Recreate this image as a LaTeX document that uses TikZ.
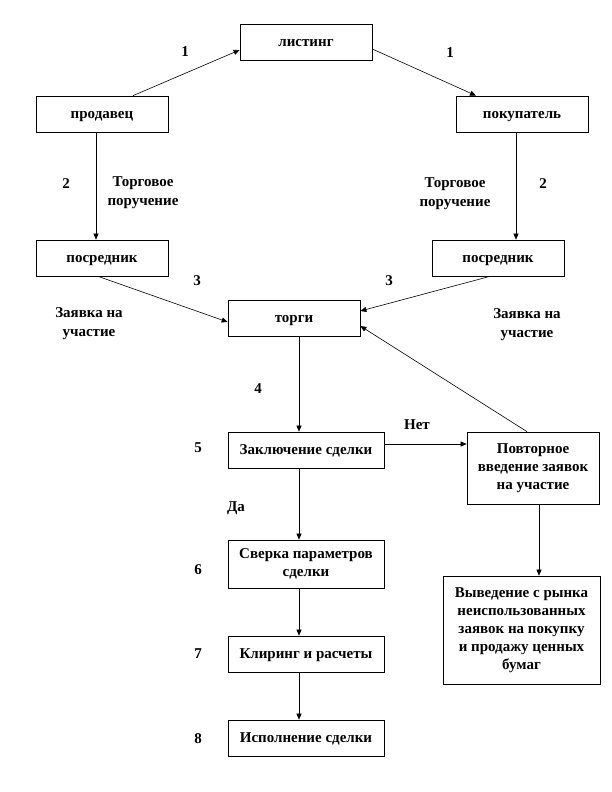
\documentclass[tikz,border=0pt]{standalone}
\usepackage{fontspec}
\setmainfont{Liberation Serif}
\usetikzlibrary{arrows.meta}
\begin{document}
\begin{tikzpicture}[x=1pt,y=-1pt,
  basebox/.style={draw,line width=0.7pt,rectangle,inner sep=0pt,font=\fontsize{15}{18}\selectfont\bfseries},
  box/.style={basebox,align=center},
  onebox/.style={basebox,minimum height=36pt,text height=12pt,text depth=3pt},
  lbl/.style={align=center,inner sep=0pt,font=\fontsize{15}{19}\selectfont\bfseries},
  arr/.style={line width=0.6pt,-{Triangle[length=6pt,width=5pt]}}]
\useasboundingbox (0,0) rectangle (612,792);
\node[onebox,minimum width=132pt] (listing) at (306,42) {листинг};
\node[onebox,minimum width=132pt] (prod) at (102,114) {продавец};
\node[onebox,minimum width=132pt] (pokup) at (522,114) {покупатель};
\node[onebox,minimum width=132pt] (posl) at (102,258) {посредник};
\node[onebox,minimum width=132pt] (posr) at (498,258) {посредник};
\node[onebox,minimum width=132pt] (torgi) at (294,318) {торги};
\node[onebox,minimum width=156pt] (zakl) at (306,450) {Заключение сделки};
\node[box,minimum width=132pt,minimum height=72pt] (povt) at (533,468) {Повторное\\введение заявок\\на участие};
\node[box,minimum width=156pt,minimum height=48pt] (sverka) at (306,564) {Сверка параметров\\сделки};
\node[box,minimum width=157pt,minimum height=108pt] (vyved) at (521.5,630) {Выведение с рынка\\неиспользованных\\заявок на покупку\\и продажу ценных\\бумаг};
\node[onebox,minimum width=156pt] (kliring) at (306,654) {Клиринг и расчеты};
\node[onebox,minimum width=156pt] (ispoln) at (306,738) {Исполнение сделки};

\draw[arr] ([xshift=31pt]prod.north) -- ([yshift=-8pt]listing.west);
\draw[arr] ([yshift=-7pt]listing.east) -- ([xshift=-46pt]pokup.north);
\draw[arr] ([xshift=-6pt]prod.south) -- ([xshift=-6pt]posl.north);
\draw[arr] ([xshift=-6pt]pokup.south) -- ([xshift=18pt]posr.north);
\draw[arr] ([xshift=-4pt]posl.south) -- ([yshift=-4pt]torgi.west);
\draw[arr] ([xshift=-8pt]posr.south) -- ([yshift=7pt]torgi.east);
\draw[arr] ([xshift=-6pt]povt.north) -- ([yshift=-8pt]torgi.east);
\draw[arr] ([xshift=5pt]torgi.south) -- ([xshift=-7pt]zakl.north);
\draw[arr] ([yshift=6pt]zakl.east) -- ([yshift=6pt]zakl.east -| povt.west);
\draw[arr] ([xshift=6pt]povt.south) -- ([xshift=6pt]povt.south |- vyved.north);
\draw[arr] ([xshift=-7pt]zakl.south) -- ([xshift=-7pt]sverka.north);
\draw[arr] ([xshift=-7pt]sverka.south) -- ([xshift=-7pt]kliring.north);
\draw[arr] ([xshift=-7pt]kliring.south) -- ([xshift=-7pt]ispoln.north);

\node[lbl] (n1a) at (185,52) {1};
\node[lbl] (n1b) at (450,53) {1};
\node[lbl] (n2a) at (66,184) {2};
\node[lbl] (n2b) at (543,184) {2};
\node[lbl] (toa) at (143,193) {Торговое\\поручение};
\node[lbl] (tob) at (455,194) {Торговое\\поручение};
\node[lbl] (n3a) at (197,281) {3};
\node[lbl] (n3b) at (389,281) {3};
\node[lbl] (zaa) at (89,324) {Заявка на\\участие};
\node[lbl] (zab) at (527,325) {Заявка на\\участие};
\node[lbl] (n4) at (258,389) {4};
\node[lbl] (n5) at (198,448) {5};
\node[lbl] (n6) at (198,570) {6};
\node[lbl] (n7) at (198,654) {7};
\node[lbl] (n8) at (198,739) {8};
\node[lbl] (da) at (236,508) {Да};
\node[lbl] (net) at (417,425) {Нет};
\end{tikzpicture}
\end{document}
